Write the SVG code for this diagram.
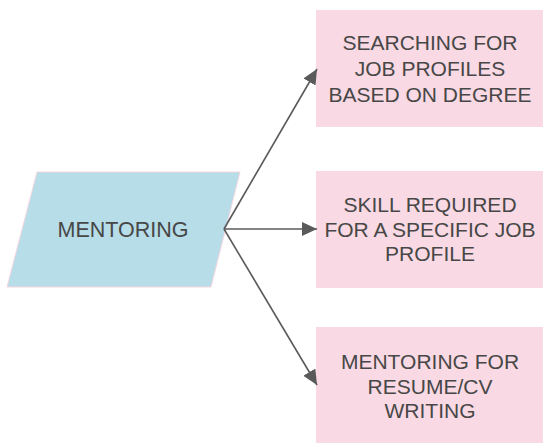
<svg xmlns="http://www.w3.org/2000/svg" width="545" height="443" viewBox="0 0 545 443">
<defs>
<style>
.box{fill:#f9d9e3;stroke:none}
.para{fill:#b7dde8;stroke:#f5d6e0;stroke-width:1}
.t{font-family:"Liberation Sans",Arial,sans-serif;font-size:21px;fill:#474747;text-anchor:middle}
.c{stroke:#5a5a5a;stroke-width:1.6;fill:none}
</style>
<marker id="ah" markerWidth="15" markerHeight="14" refX="15" refY="7" orient="auto" markerUnits="userSpaceOnUse">
<path d="M0,0 L15,7 L0,14 Z" fill="#5a5a5a"/>
</marker>
</defs>
<rect width="545" height="443" fill="#ffffff"/>
<g id="mentoring">
<polygon class="para" points="37,172 240,172 211,287 7,287"/>
<text class="t" x="123" y="237" style="font-size:21.5px">MENTORING</text>
</g>
<g id="searching">
<rect class="box" x="316" y="10" width="227" height="117"/>
<text class="t" x="430" y="50">SEARCHING FOR</text>
<text class="t" x="430" y="76">JOB PROFILES</text>
<text class="t" x="430" y="102">BASED ON DEGREE</text>
</g>
<g id="skill">
<rect class="box" x="316" y="171" width="227" height="117"/>
<text class="t" x="430" y="212">SKILL REQUIRED</text>
<text class="t" x="430" y="237">FOR A SPECIFIC JOB</text>
<text class="t" x="430" y="261">PROFILE</text>
</g>
<g id="resume">
<rect class="box" x="316" y="327" width="227" height="116"/>
<text class="t" x="430" y="369">MENTORING FOR</text>
<text class="t" x="430" y="394">RESUME/CV</text>
<text class="t" x="430" y="418">WRITING</text>
</g>
<g id="connectors">
<line class="c" x1="224" y1="229" x2="317" y2="69" marker-end="url(#ah)"/>
<line class="c" x1="224" y1="229" x2="317" y2="229" marker-end="url(#ah)"/>
<line class="c" x1="224" y1="229" x2="317" y2="385" marker-end="url(#ah)"/>
</g>
</svg>
